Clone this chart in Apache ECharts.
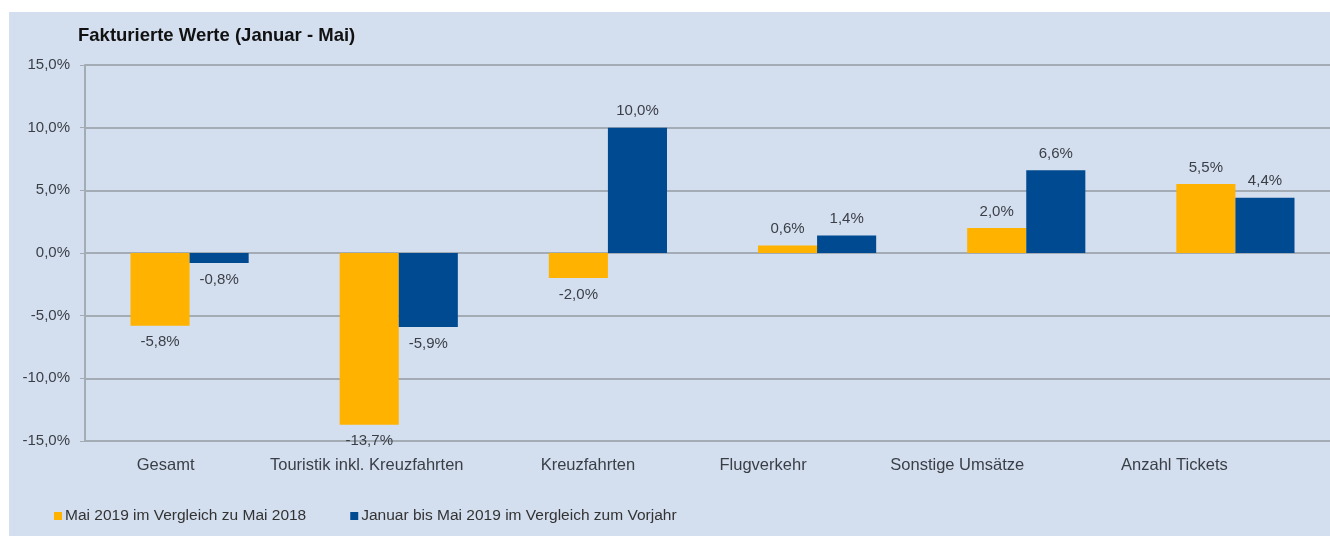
<!DOCTYPE html>
<html>
<head>
<meta charset="utf-8">
<script src="https://cdn.jsdelivr.net/npm/echarts@6/dist/echarts.min.js"></script>
<style>
html,body{margin:0;padding:0;background:#fff;width:1330px;height:536px;overflow:hidden;position:relative;}
#bg{position:absolute;left:9px;top:12px;width:1321px;height:524px;background:#d3deee;}
#chart{position:absolute;left:9px;top:12px;width:1331px;height:524px;}
</style>
</head>
<body>
<div id="bg"></div>
<div id="chart"></div>
<script>
const categories = ['Gesamt', 'Touristik inkl. Kreuzfahrten', 'Kreuzfahrten', 'Flugverkehr', 'Sonstige Umsätze', 'Anzahl Tickets'];
const seriesNames = ['Mai 2019 im Vergleich zu Mai 2018', 'Januar bis Mai 2019 im Vergleich zum Vorjahr'];
const mai2019 = [-5.8, -13.7, -2.0, 0.6, 2.0, 5.5];
const janBisMai2019 = [-0.8, -5.9, 10.0, 1.4, 6.6, 4.4];
const yTicks = { min: -15, max: 15, interval: 5 };

const FONT = '"Liberation Sans", Arial, sans-serif';
const fmt = v => v.toFixed(1).replace('.', ',') + '%';
// label horizontal shifts (style only, px to the left)
const labelShift = [24, 32, 20, 54, 69, 61];
const rich = {};
labelShift.forEach((s, i) => {
  rich['c' + i] = { fontFamily: FONT, fontSize: 16.5, color: '#3a3f47', padding: [0, 2 * s, 0, 0] };
});

function mkData(arr) {
  return arr.map(v => ({ value: v, label: { position: v < 0 ? 'bottom' : 'top' } }));
}

const chart = echarts.init(document.getElementById('chart'), null, { renderer: 'canvas' });
chart.setOption({
  backgroundColor: 'transparent',
  animation: false,
  title: {
    text: 'Fakturierte Werte (Januar - Mai)',
    left: 64, top: 9,
    textStyle: { fontFamily: FONT, fontSize: 18.5, fontWeight: 'bold', color: '#111' }
  },
  legend: {
    left: 40, bottom: 7,
    icon: 'rect', itemWidth: 8, itemHeight: 8, itemGap: 44,
    textStyle: { fontFamily: FONT, fontSize: 15.5, color: '#333', padding: [0, 0, 0, -2] },
    data: seriesNames
  },
  grid: { left: 76, right: 0, top: 53, bottom: 95, containLabel: false },
  xAxis: {
    type: 'category',
    data: categories,
    axisLine: { show: false },
    axisTick: { show: false },
    axisLabel: {
      margin: 16,
      interval: 0,
      formatter: (v, i) => '{c' + i + '|' + v + '}',
      rich: rich
    }
  },
  yAxis: {
    type: 'value',
    min: yTicks.min, max: yTicks.max, interval: yTicks.interval,
    axisLine: { show: true, lineStyle: { color: '#a3abb5', width: 2 } },
    axisTick: { show: true, length: 5, lineStyle: { color: '#a3abb5', width: 1 } },
    axisLabel: { margin: 15, fontFamily: FONT, fontSize: 15, color: '#3a3f47', formatter: fmt },
    splitLine: { show: true, lineStyle: { color: '#a3abb5', width: 2 } }
  },
  series: [
    {
      name: seriesNames[0], type: 'bar', data: mkData(mai2019),
      barGap: '0%', barCategoryGap: '43.5%',
      itemStyle: { color: '#ffb300' },
      label: { show: true, distance: 9, fontFamily: FONT, fontSize: 15, color: '#3a3f47', formatter: p => fmt(p.value) }
    },
    {
      name: seriesNames[1], type: 'bar', data: mkData(janBisMai2019),
      barGap: '0%', barCategoryGap: '43.5%',
      itemStyle: { color: '#004a91' },
      label: { show: true, distance: 9, fontFamily: FONT, fontSize: 15, color: '#3a3f47', formatter: p => fmt(p.value) }
    }
  ]
});
</script>
</body>
</html>
